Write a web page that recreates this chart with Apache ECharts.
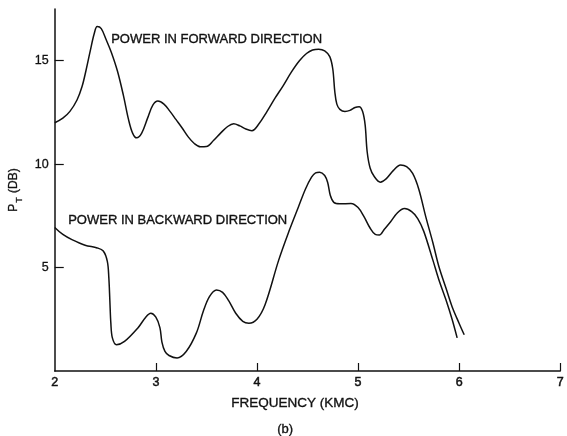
<!DOCTYPE html>
<html>
<head>
<meta charset="utf-8">
<script src="https://cdn.jsdelivr.net/npm/echarts@6/dist/echarts.min.js"></script>
<style>
  html, body { margin: 0; padding: 0; background: #fff; }
  #chart { width: 567px; height: 436px; }
</style>
</head>
<body>
<div id="chart"></div>
<script>
// Transmitted power versus frequency, forward and backward directions
const forwardFreq = [2.00, 2.08, 2.15, 2.22, 2.27, 2.31, 2.35, 2.39, 2.42, 2.46, 2.51, 2.56, 2.62, 2.68, 2.73, 2.77, 2.81, 2.86, 2.92, 2.97, 3.02, 3.08, 3.14, 3.20, 3.26, 3.32, 3.38, 3.44, 3.50, 3.57, 3.64, 3.71, 3.77, 3.83, 3.89, 3.95, 4.02, 4.10, 4.18, 4.26, 4.34, 4.42, 4.49, 4.55, 4.61, 4.67, 4.72, 4.75, 4.77, 4.79, 4.82, 4.87, 4.92, 4.97, 5.01, 5.045, 5.07, 5.09, 5.12, 5.16, 5.22, 5.28, 5.35, 5.42, 5.48, 5.54, 5.60, 5.67, 5.74, 5.80, 5.87, 5.93, 6.00, 6.05];
const forwardDb   = [12.0, 12.22, 12.55, 13.1, 13.75, 14.55, 15.45, 16.3, 16.65, 16.55, 16.0, 15.4, 14.5, 13.3, 12.15, 11.5, 11.27, 11.5, 12.25, 12.85, 13.05, 12.9, 12.55, 12.15, 11.75, 11.32, 11.0, 10.84, 10.85, 11.14, 11.5, 11.82, 11.95, 11.85, 11.7, 11.62, 11.95, 12.55, 13.2, 13.8, 14.45, 15.0, 15.35, 15.52, 15.56, 15.48, 15.2, 14.6, 13.5, 12.9, 12.65, 12.55, 12.6, 12.74, 12.78, 12.55, 11.9, 10.6, 9.8, 9.4, 9.13, 9.3, 9.7, 9.96, 9.88, 9.55, 8.8, 7.45, 6.2, 5.04, 4.0, 3.11, 2.3, 1.75];

const backwardFreq = [2.00, 2.08, 2.17, 2.30, 2.42, 2.48, 2.52, 2.535, 2.545, 2.555, 2.57, 2.61, 2.69, 2.82, 2.90, 2.95, 3.00, 3.04, 3.06, 3.09, 3.13, 3.21, 3.30, 3.40, 3.47, 3.53, 3.60, 3.66, 3.72, 3.79, 3.86, 3.92, 4.00, 4.08, 4.215, 4.32, 4.41, 4.48, 4.54, 4.58, 4.62, 4.67, 4.70, 4.725, 4.76, 4.82, 4.93, 5.00, 5.06, 5.12, 5.17, 5.21, 5.26, 5.32, 5.39, 5.46, 5.53, 5.59, 5.65, 5.74, 5.80, 5.87, 5.93, 5.98];
const backwardDb   = [6.94, 6.6, 6.35, 6.08, 5.95, 5.8, 5.3, 4.5, 3.4, 2.3, 1.6, 1.27, 1.43, 2.07, 2.6, 2.79, 2.6, 2.1, 1.4, 0.95, 0.75, 0.63, 0.94, 1.83, 2.9, 3.6, 3.92, 3.8, 3.4, 2.79, 2.4, 2.31, 2.5, 3.2, 5.36, 6.8, 7.93, 8.8, 9.37, 9.58, 9.61, 9.45, 9.1, 8.5, 8.15, 8.08, 8.1, 7.9, 7.45, 6.9, 6.6, 6.57, 6.85, 7.2, 7.65, 7.85, 7.7, 7.37, 6.75, 5.36, 4.4, 3.43, 2.5, 1.6];

const xTickValues = [2, 3, 4, 5, 6, 7];
const xMarkValues = [3, 4, 5, 6, 7];
const yTickValues = [5, 10, 15];

const forwardLabel = 'POWER IN FORWARD DIRECTION';
const backwardLabel = 'POWER IN BACKWARD DIRECTION';
const xTitle = 'FREQUENCY (KMC)';
const panelTag = '(b)';

const ink = '#111';
const font = '"Liberation Sans", Arial, Helvetica, sans-serif';
const textHalo = { stroke: ink, lineWidth: 0.35 };

function pairs(xs, ys) { return xs.map((x, i) => [x, ys[i]]); }

const chart = echarts.init(document.getElementById('chart'), null, { renderer: 'canvas' });

chart.setOption({
  backgroundColor: '#fff',
  animation: false,
  grid: { left: 49, right: 4, top: 9, bottom: 65, containLabel: false },
  xAxis: {
    type: 'value', min: 2, max: 7, interval: 1,
    axisLine: { show: true, lineStyle: { color: ink, width: 1.5 } },
    axisTick: { show: true, inside: true, length: 8, customValues: xMarkValues, lineStyle: { color: ink, width: 1.2 } },
    axisLabel: { customValues: xTickValues, color: ink, fontFamily: font, fontSize: 12.5, margin: 5, textBorderColor: ink, textBorderWidth: 0.5 },
    splitLine: { show: false }
  },
  yAxis: {
    type: 'value', min: 0, max: 17.5, interval: 5,
    name: '{p|P}{s|T}{p| (DB)}',
    nameLocation: 'middle', nameRotate: 90, nameGap: 24,
    nameTextStyle: {
      rich: {
        p: { fontFamily: font, fontSize: 12, color: ink, textBorderColor: ink, textBorderWidth: 0.3 },
        s: { fontFamily: font, fontSize: 9, color: ink, verticalAlign: 'top', padding: [10, 1, 0, 1], textBorderColor: ink, textBorderWidth: 0.3 }
      }
    },
    axisLine: { show: true, lineStyle: { color: ink, width: 1.5 } },
    axisTick: { show: true, inside: true, length: 9, customValues: yTickValues, lineStyle: { color: ink, width: 1.2 } },
    axisLabel: { customValues: yTickValues, color: ink, fontFamily: font, fontSize: 12.5, margin: 6, textBorderColor: ink, textBorderWidth: 0.3 },
    splitLine: { show: false }
  },
  series: [
    {
      name: forwardLabel, type: 'line', data: pairs(forwardFreq, forwardDb),
      smooth: 0.35, showSymbol: false, lineStyle: { color: ink, width: 1.5 }
    },
    {
      name: backwardLabel, type: 'line', data: pairs(backwardFreq, backwardDb),
      smooth: 0.35, showSymbol: false, lineStyle: { color: ink, width: 1.5 }
    }
  ],
  graphic: [
    { type: 'text', left: 111, top: 33, style: Object.assign({ text: forwardLabel, font: '13px ' + font, fill: ink }, textHalo) },
    { type: 'text', left: 68, top: 214, style: Object.assign({ text: backwardLabel, font: '13px ' + font, fill: ink }, textHalo) },
    { type: 'text', left: 231, top: 396, style: Object.assign({ text: xTitle, font: '13.5px ' + font, fill: ink }, textHalo) },
    { type: 'text', left: 277, top: 423, style: Object.assign({ text: panelTag, font: '13px ' + font, fill: ink }, textHalo) }
  ]
});
</script>
</body>
</html>
